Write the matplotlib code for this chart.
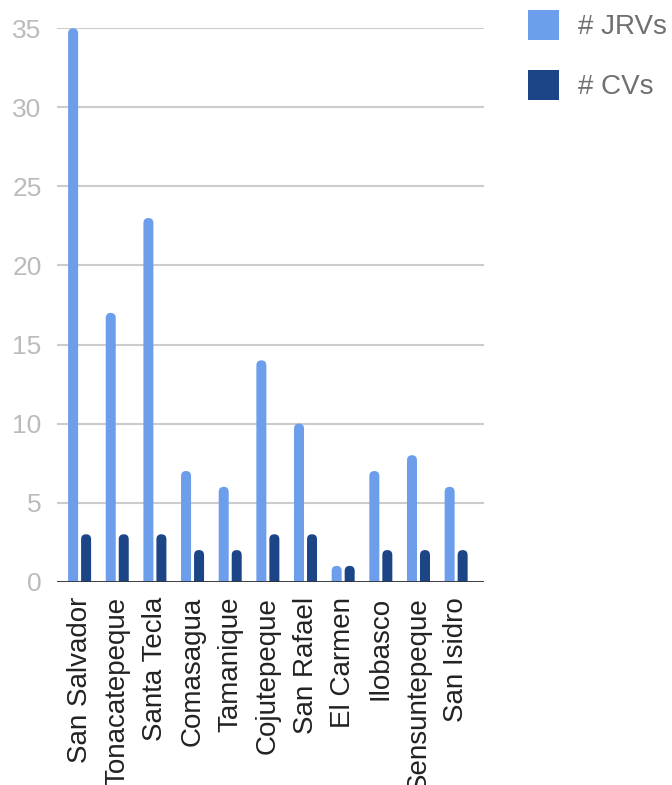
import numpy as np
import matplotlib
matplotlib.use('Agg')
import matplotlib.pyplot as plt
from matplotlib.patches import FancyBboxPatch, Patch

plt.rcParams['font.family'] = ['Liberation Sans', 'DejaVu Sans']

municipios = ['San Salvador', 'Tonacatepeque', 'Santa Tecla', 'Comasagua', 'Tamanique',
              'Cojutepeque', 'San Rafael', 'El Carmen', 'Ilobasco', 'Sensuntepeque', 'San Isidro']
jrvs = [35, 17, 23, 7, 6, 14, 10, 1, 7, 8, 6]
cvs = [3, 3, 3, 2, 2, 3, 3, 1, 2, 2, 2]

c_jrv = '#6d9eeb'
c_cv = '#1c4587'

W, H = 672, 785
fig = plt.figure(figsize=(W / 100, H / 100), dpi=100)
ax = fig.add_axes([57 / W, 1 - 581.7 / H, (484 - 57) / W, (581.7 - 28.3) / H])

x = np.arange(len(municipios))
ax.set_xlim(-0.6, 10.74)
ax.set_ylim(0, 35)

# pixel -> data scale for the rounded tops
px_x = (ax.get_xlim()[1] - ax.get_xlim()[0]) / (484 - 57)
px_y = 35 / (581.7 - 28.3)
bw = 10 * px_x
off = 6.5 * px_x

b1 = ax.bar(x - off, jrvs, bw, color=c_jrv)
b2 = ax.bar(x + off, cvs, bw, color=c_cv)

# swap each bar for a rounded one (bottom pushed below 0 so it gets clipped)
for bars in (b1, b2):
    for r in bars:
        r.set_visible(False)
        p = FancyBboxPatch((r.get_x(), -1), r.get_width(), r.get_height() + 1,
                           boxstyle='round,pad=0,rounding_size=%f' % (bw / 2),
                           mutation_aspect=px_y / px_x,
                           facecolor=r.get_facecolor(), edgecolor='none', zorder=2)
        ax.add_patch(p)

ax.set_yticks(np.arange(0, 36, 5))
ax.yaxis.grid(True, color='#cccccc', linewidth=1.5)
ax.set_axisbelow(True)
ax.axhline(0, color='#333333', linewidth=2, zorder=3)
for s in ax.spines.values():
    s.set_visible(False)

ax.set_xticks(x)
ax.set_xticklabels(municipios, rotation=90, fontsize=20, color='#222222')
ax.tick_params(axis='x', length=0, pad=11)
ax.tick_params(axis='y', length=0, pad=11, labelsize=19, labelcolor='#bbbbbb')

handles = [Patch(facecolor=c_jrv, edgecolor='none'), Patch(facecolor=c_cv, edgecolor='none')]
fig.legend(handles=handles, labels=['# JRVs', '# CVs'],
           loc='upper left', bbox_to_anchor=(528 / W, 1 - 10 / H),
           frameon=False, fontsize=20, labelcolor='#707070',
           handlelength=1.12, handleheight=1.3, handletextpad=0.68,
           labelspacing=1.05, borderaxespad=0, borderpad=0)

plt.savefig('out.png', dpi=100)
